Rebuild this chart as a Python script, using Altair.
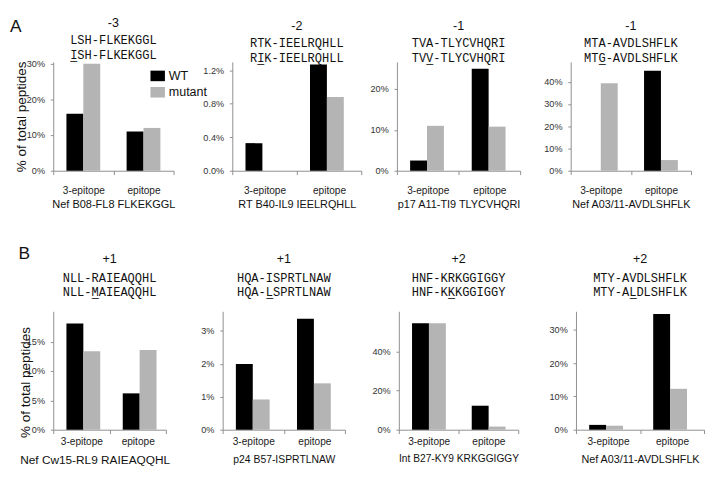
import altair as alt
import pandas as pd

groups = ["3-epitope", "epitope"]
series = ["WT", "mutant"]

headers = ["-3", "-2", "-1", "-1", "+1", "+1", "+2", "+2"]
seq_wt = ["LSH-FLKEKGGL", "RTK-IEELRQHLL", "TVA-TLYCVHQRI", "MTA-AVDLSHFLK",
          "NLL-RAIEAQQHL", "HQA-ISPRTLNAW", "HNF-KRKGGIGGY", "MTY-AVDLSHFLK"]
seq_mut = ["I\u0332SH-FLKEKGGL", "RI\u0332K-IEELRQHLL", "TVV\u0332-TLYCVHQRI", "MTG\u0332-AVDLSHFLK",
           "NLL-M\u0332AIEAQQHL", "HQA-L\u0332SPRTLNAW", "HNF-KK\u0332KGGIGGY", "MTY-AL\u0332DLSHFLK"]
epitope_names = ["Nef B08-FL8 FLKEKGGL", "RT B40-IL9 IEELRQHLL", "p17 A11-TI9 TLYCVHQRI",
                 "Nef A03/11-AVDLSHFLK", "Nef Cw15-RL9 RAIEAQQHL", "p24 B57-ISPRTLNAW",
                 "Int B27-KY9 KRKGGIGGY", "Nef A03/11-AVDLSHFLK"]
wt_values = [[0.160, 0.110], [0.0033, 0.0127], [0.025, 0.250], [0.0, 0.450],
             [0.181, 0.062], [0.0200, 0.0337], [0.546, 0.123], [0.0145, 0.348]]
mutant_values = [[0.300, 0.120], [0.0, 0.0088], [0.110, 0.108], [0.393, 0.048],
                 [0.134, 0.136], [0.0092, 0.0141], [0.546, 0.016], [0.012, 0.123]]
y_max = [0.305, 0.013, 0.2665, 0.489, 0.202, 0.036, 0.607, 0.356]
y_ticks = [[0, 0.1, 0.2, 0.3], [0, 0.004, 0.008, 0.012], [0, 0.1, 0.2], [0, 0.1, 0.2, 0.3, 0.4],
           [0, 0.05, 0.1, 0.15], [0, 0.01, 0.02, 0.03], [0, 0.2, 0.4], [0, 0.1, 0.2, 0.3]]
y_formats = [".0%", ".1%", ".0%", ".0%", ".0%", ".0%", ".0%", ".0%"]
y_title = "% of total peptides"
row_labels = ["A", "B"]

# layout (pixels)
widths = [125, 134, 128, 125, 117, 127, 124, 133]
row_heights = [113, 123]
xtitle_sizes = [11.4, 11.3, 11.3, 11.2, 12.3, 10.8, 10.6, 11.2]

SANS = "Liberation Sans"
MONO = "Liberation Mono"
AXIS_GRAY = "#8c8c8c"
COLORS = ["#000000", "#b4b4b4"]


def panel(i):
    rows = []
    for g, w, m in zip(groups, wt_values[i], mutant_values[i]):
        rows.append({"group": g, "series": "WT", "value": w})
        rows.append({"group": g, "series": "mutant", "value": m})
    df = pd.DataFrame(rows)
    row_b = i >= 4
    first = i % 4 == 0
    h = row_heights[1] if row_b else row_heights[0]
    yaxis_kw = dict(values=y_ticks[i], format=y_formats[i], grid=False,
                    domainColor=AXIS_GRAY, tickColor=AXIS_GRAY, tickSize=3,
                    labelPadding=6, labelFontSize=9.5, labelFont=SANS, labelColor="#333333")
    if first:
        yaxis_kw.update(title=y_title, titleFont=SANS, titleFontSize=14, titleFontWeight="normal",
                        titleColor="#111111", titleX=-22 if row_b else -26)
        if row_b:
            yaxis_kw.update(titleY=h / 2 + 12, titleAlign="center")
    else:
        yaxis_kw.update(title=None)
    xtitle_kw = dict(titleFontSize=xtitle_sizes[i])
    if i == 4:
        xtitle_kw.update(titleX=43)
    chart = alt.Chart(df).mark_bar().encode(
        x=alt.X("group:N", sort=groups, scale=alt.Scale(paddingInner=0, paddingOuter=0),
                axis=alt.Axis(title=epitope_names[i], labelAngle=0, tickBand="extent", grid=False,
                              domainColor=AXIS_GRAY, tickColor=AXIS_GRAY, tickSize=4,
                              labelPadding=3 if row_b else 12, labelFontSize=10.5,
                              labelFont=SANS, labelColor="#222222",
                              titleFont=SANS, titleFontWeight="normal", titleColor="#111111",
                              titlePadding=8 if row_b else 3, **xtitle_kw)),
        xOffset=alt.XOffset("series:N", sort=series,
                            scale=alt.Scale(paddingInner=0, paddingOuter=0.72 if row_b else 0.78)),
        y=alt.Y("value:Q", scale=alt.Scale(domain=[0, y_max[i]], nice=False, zero=True),
                axis=alt.Axis(**yaxis_kw)),
        color=alt.Color("series:N", sort=series,
                        scale=alt.Scale(domain=series, range=COLORS),
                        legend=alt.Legend(orient="none", legendX=101, legendY=7, title=None,
                                          symbolType="M-1,-0.73H1V0.73H-1Z", symbolSize=225,
                                          symbolStrokeWidth=0, labelFont=SANS, labelFontSize=13,
                                          labelColor="#111111", labelOffset=4, rowPadding=2,
                                          padding=0)),
    ).properties(
        width=widths[i], height=h,
        title=alt.TitleParams(text=headers[i], subtitle=[seq_wt[i], seq_mut[i]],
                              font=SANS, fontSize=13, fontWeight="normal", color="#111111",
                              subtitleFont=MONO, subtitleFontSize=12.5, subtitleColor="#111111",
                              subtitlePadding=7 if row_b else 5,
                              subtitleLineHeight=15 if row_b else 16,
                              offset=13 if row_b else -3, anchor="middle", frame="group"),
    )
    return chart


p = [panel(i) for i in range(8)]

row_a = alt.hconcat(
    alt.hconcat(p[0], p[1], spacing=28),
    alt.hconcat(p[2], p[3], spacing=22.5),
    spacing=7,
    title=alt.TitleParams(row_labels[0], anchor="start", font=SANS, fontSize=18,
                          fontWeight="normal", offset=-20, dx=-5, color="#111111"))
row_b = alt.hconcat(
    alt.hconcat(p[4], p[5], spacing=32),
    alt.hconcat(p[6], p[7], spacing=30),
    spacing=26,
    title=alt.TitleParams(row_labels[1], anchor="start", font=SANS, fontSize=18,
                          fontWeight="normal", offset=-10, color="#111111"))

chart = alt.vconcat(row_a, row_b, spacing=36).properties(
    padding={"left": 1, "top": 0, "right": 0, "bottom": 0}, background="white"
).configure_view(strokeWidth=0)

chart.save("out.html", embed_options={"renderer": "svg", "actions": False})
